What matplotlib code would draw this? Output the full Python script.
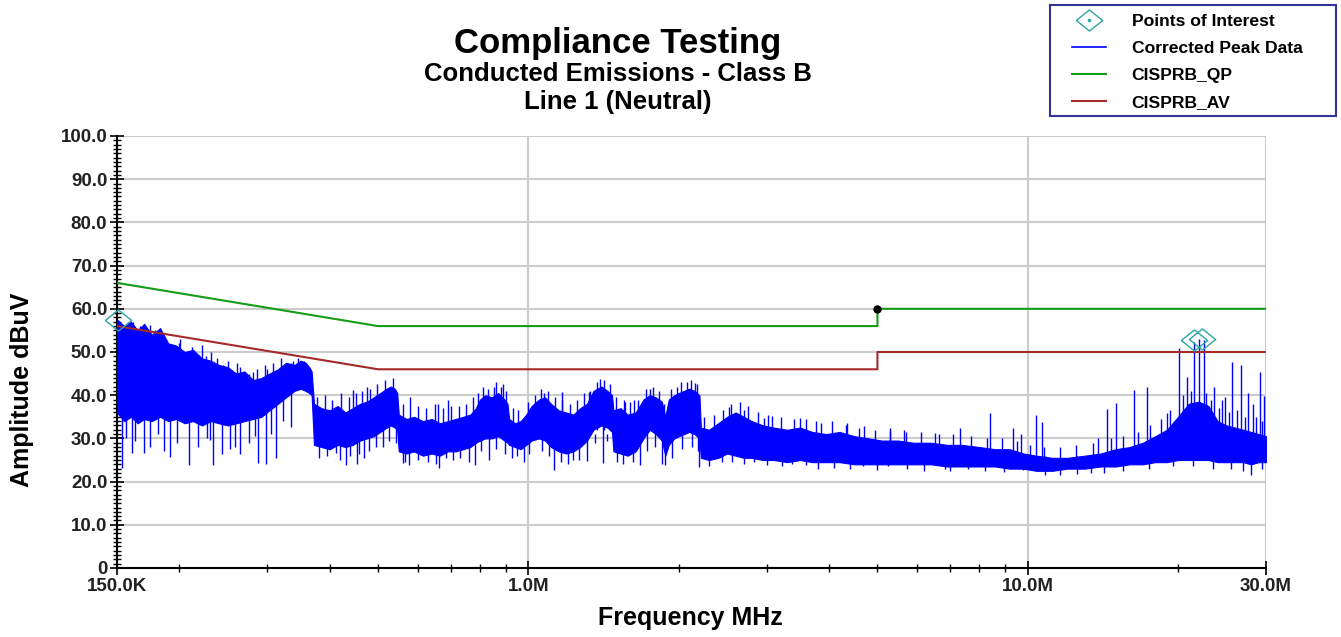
import numpy as np
import matplotlib
matplotlib.use('Agg')
import matplotlib.pyplot as plt
from matplotlib.ticker import FixedLocator, NullFormatter, MultipleLocator
from matplotlib.lines import Line2D
from matplotlib.patches import Rectangle

plt.rcParams['font.family'] = ['Liberation Sans', 'DejaVu Sans']
plt.rcParams['font.weight'] = 'bold'

# limit lines (MHz, dBuV)
qp_freq = [0.15, 0.5, 5.0, 5.0, 30.0]
qp_level = [66.0, 56.0, 56.0, 60.0, 60.0]
av_freq = [0.15, 0.5, 5.0, 5.0, 30.0]
av_level = [56.0, 46.0, 46.0, 50.0, 50.0]

# corrected peak data: envelope of the dense sweep
env_freq = [0.150, 0.155, 0.160, 0.165, 0.170, 0.176, 0.183, 0.190, 0.197, 0.205,
            0.213, 0.222, 0.231, 0.240, 0.250, 0.260, 0.270, 0.281, 0.292, 0.303,
            0.315, 0.327, 0.340, 0.350, 0.358, 0.364, 0.368,
            0.372, 0.385, 0.400, 0.415, 0.430, 0.445, 0.460, 0.475, 0.490, 0.505,
            0.520, 0.530, 0.540, 0.546,
            0.550, 0.570, 0.590, 0.615, 0.640, 0.665, 0.690, 0.715, 0.740, 0.765,
            0.785, 0.800, 0.820, 0.845, 0.870, 0.895, 0.908,
            0.915, 0.940, 0.965, 0.990, 1.015, 1.050, 1.080, 1.110, 1.150, 1.190,
            1.230, 1.270, 1.310, 1.350, 1.400, 1.440, 1.470,
            1.480, 1.530, 1.580, 1.640, 1.700, 1.750, 1.800, 1.850, 1.880, 1.910,
            1.960, 2.000, 2.050, 2.100, 2.150, 2.200,
            2.215, 2.300, 2.400, 2.500, 2.600, 2.700, 2.800, 2.950, 3.100, 3.300,
            3.500, 3.700, 3.950, 4.200, 4.500, 4.800, 5.100, 5.500, 5.900, 6.400,
            6.900, 7.400, 8.000, 8.600, 9.200, 9.800, 10.4, 11.2, 12.0, 13.0,
            14.0, 15.0, 16.0, 17.0, 18.0, 19.0, 20.0, 21.0, 22.0, 23.0,
            24.0, 25.0, 26.0, 27.0, 28.0, 29.0, 30.0]
env_hi = [57.5, 56.0, 57.0, 55.0, 56.5, 54.0, 55.5, 52.0, 51.5, 50.0,
          50.5, 48.5, 48.0, 47.0, 46.5, 45.0, 45.5, 43.5, 44.0, 45.0,
          46.0, 47.5, 47.0, 48.0, 47.5, 46.5, 45.5,
          38.0, 37.0, 36.5, 37.5, 36.0, 37.0, 38.0, 38.5, 39.5, 40.5,
          41.5, 42.0, 41.5, 40.5,
          35.5, 34.5, 35.0, 34.0, 34.5, 33.5, 34.0, 34.5, 35.0, 35.5,
          37.0, 39.0, 40.0, 39.5, 40.5, 39.0, 38.0,
          34.5, 33.5, 34.0, 35.5, 37.5, 39.0, 39.5, 38.0, 36.5, 36.0,
          35.5, 37.0, 38.0, 41.0, 42.0, 41.0, 40.0,
          36.5, 37.0, 35.5, 36.0, 39.0, 40.0, 39.5, 38.5, 35.0, 39.0,
          40.0, 40.5, 41.0, 41.5, 41.0, 40.0,
          32.5, 32.0, 33.5, 35.0, 36.0, 35.0, 34.0, 33.0, 32.5, 32.0,
          32.5, 31.5, 31.0, 31.5, 30.5, 30.0, 29.5, 29.5, 29.0, 29.0,
          28.5, 28.5, 28.0, 27.5, 27.5, 26.5, 26.0, 25.5, 25.5, 26.0,
          26.5, 27.5, 28.0, 29.0, 30.5, 32.0, 35.0, 38.0, 38.5, 37.5,
          34.0, 33.0, 32.5, 32.0, 31.5, 31.0, 30.5]
env_lo = [36.0, 34.0, 35.0, 33.5, 34.5, 34.0, 35.0, 34.0, 34.5, 33.5,
          34.0, 33.0, 34.0, 33.5, 33.0, 33.5, 34.0, 34.5, 35.0, 36.5,
          38.0, 39.5, 41.0, 41.5, 41.0, 40.5, 40.0,
          28.5, 28.0, 27.5, 28.5, 28.0, 28.5, 29.5, 30.0, 30.5, 31.5,
          32.5, 33.0, 32.5, 32.0,
          27.0, 26.5, 27.0, 26.0, 26.5, 26.0, 27.0, 27.0, 27.5, 28.0,
          29.0, 29.5, 30.0, 30.0, 30.5, 29.5, 29.0,
          28.5, 28.0, 27.5, 28.5, 29.5, 30.0, 29.5, 28.0, 27.0, 26.5,
          27.0, 28.0, 29.5, 32.0, 33.0, 32.5, 31.5,
          27.0, 26.5, 26.0, 27.0, 30.0, 32.0, 31.0, 29.5, 26.0, 28.5,
          30.0, 30.5, 31.0, 31.5, 31.0, 30.0,
          25.5, 25.0, 25.5, 26.5, 26.0, 25.5, 25.5, 25.0, 25.0, 24.5,
          25.0, 24.5, 24.5, 24.5, 24.0, 24.0, 24.0, 24.0, 24.0, 24.0,
          23.5, 23.5, 23.5, 23.5, 23.0, 23.0, 22.5, 22.5, 23.0, 23.0,
          23.5, 23.5, 24.0, 24.0, 24.5, 24.5, 25.0, 25.0, 25.0, 25.0,
          24.5, 24.5, 24.5, 24.5, 24.0, 24.5, 24.5]

# larger spikes sticking out of the envelope (MHz, bottom, top)
spike_freq = [0.1535, 0.1606, 0.1696, 0.1867, 0.1911, 0.2088, 0.2307, 0.2340, 0.2436, 0.2649,
              0.2880, 0.2977, 0.3129, 0.3339,
              0.1507, 0.1579, 0.1615, 0.1700, 0.1750, 0.1830, 0.2007, 0.2119, 0.2222, 0.2310,
              0.2379, 0.2503, 0.2614, 0.2813, 0.3000, 0.3269, 0.3345,
              0.411, 0.431, 0.453, 0.468, 0.511, 0.561, 0.577, 0.663, 0.684, 0.761,
              0.783, 0.835, 0.982, 1.123, 1.231, 1.308, 1.409, 1.671, 1.851, 2.200,
              2.444, 2.835, 3.376, 3.59, 4.10, 4.68, 5.26, 6.82, 7.60, 9.79,
              11.6, 14.2, 28.0,
              0.445, 0.475, 0.579, 0.660, 0.690, 0.794, 0.854, 0.891, 1.077, 1.165,
              1.320, 1.389, 1.552, 1.626, 1.751, 1.983, 2.156, 2.523, 2.705, 2.966,
              3.08, 3.50, 3.77, 4.33, 4.70, 5.30, 5.64, 6.51, 7.32, 8.40,
              9.34, 9.71, 10.4, 10.7, 13.85, 14.4, 15.0, 16.3, 17.3, 18.97,
              20.1, 20.8, 21.5, 22.0, 22.5, 23.6, 24.5, 24.8, 25.7, 26.7,
              27.6, 28.3, 29.2, 29.7]
spike_lo = [23.2, 26.6, 26.6, 27.0, 25.7, 23.8, 29.6, 23.8, 26.5, 26.5,
            24.3, 24.0, 25.5, 32.6,
            45.0, 45.0, 45.0, 45.0, 45.0, 45.0, 44.0, 44.0, 44.0, 42.0,
            42.0, 40.0, 40.0, 40.0, 40.0, 42.0, 42.0,
            26.6, 23.8, 24.0, 25.5, 28.0, 24.3, 23.8, 23.1, 25.5, 24.5,
            23.8, 25.0, 24.6, 22.7, 25.0, 24.8, 24.3, 23.8, 24.0, 23.4,
            24.5, 24.5, 24.0, 23.8, 23.1, 23.5, 23.5, 23.0, 23.0, 22.7,
            21.5, 22.0, 21.5,
            33.0, 33.0, 31.0, 31.0, 31.0, 33.0, 35.0, 35.0, 32.0, 32.0,
            33.0, 37.0, 32.0, 32.0, 34.0, 34.0, 34.0, 30.0, 30.0, 29.0,
            29.0, 29.0, 29.0, 28.0, 28.0, 28.0, 28.0, 27.0, 27.0, 26.0,
            26.0, 26.0, 25.0, 25.0, 26.0, 26.0, 26.0, 27.0, 28.0, 30.0,
            32.0, 33.0, 33.0, 33.0, 33.0, 30.0, 30.0, 30.0, 30.0, 30.0,
            30.0, 30.0, 30.0, 30.0]
spike_hi = [45.0, 45.0, 45.0, 45.0, 45.0, 44.0, 42.0, 42.0, 42.0, 40.0,
            40.0, 40.0, 40.0, 44.0,
            57.4, 57.0, 57.0, 56.5, 56.2, 55.5, 53.0, 51.2, 51.6, 50.0,
            48.6, 48.0, 47.4, 45.4, 46.0, 46.8, 47.4,
            33.0, 33.0, 33.0, 33.0, 37.0, 31.0, 31.0, 31.0, 31.0, 31.0,
            33.0, 35.0, 32.0, 32.0, 32.0, 33.0, 37.0, 32.0, 34.0, 30.0,
            30.0, 30.0, 29.0, 29.0, 29.0, 28.0, 28.0, 27.0, 27.0, 26.0,
            25.0, 26.0, 28.0,
            41.2, 42.0, 39.6, 38.0, 39.0, 40.5, 42.0, 42.5, 40.5, 40.7,
            40.7, 43.7, 38.9, 39.0, 41.4, 41.8, 42.8, 37.3, 36.5, 34.7,
            35.3, 34.7, 34.0, 33.1, 32.8, 32.5, 32.0, 31.2, 32.4, 35.9,
            32.4, 31.0, 35.4, 33.8, 30.1, 36.8, 38.2, 41.2, 42.0, 35.9,
            50.9, 44.3, 52.3, 53.0, 52.8, 42.0, 38.9, 39.5, 47.7, 47.0,
            40.5, 38.0, 45.4, 39.8]

# short spikes that make the ragged edges of the band (MHz, bottom, top)
fine_freq = [0.152, 0.157, 0.163, 0.167, 0.172, 0.179, 0.186, 0.193, 0.200, 0.204,
             0.215, 0.219, 0.226, 0.235, 0.244, 0.255, 0.265, 0.276, 0.286, 0.297,
             0.308, 0.320, 0.338, 0.345, 0.355,
             0.156, 0.163, 0.175, 0.181, 0.198, 0.218, 0.227, 0.252, 0.258, 0.276,
             0.283, 0.305, 0.322,
             0.378, 0.392, 0.405, 0.422, 0.438, 0.452, 0.465, 0.482, 0.497, 0.515, 0.535,
             0.380, 0.395, 0.420, 0.440, 0.458, 0.480, 0.495, 0.525, 0.543,
             0.560, 0.600, 0.625, 0.650, 0.675, 0.700, 0.725, 0.750, 0.775, 0.810,
             0.830, 0.862, 0.880, 0.900,
             0.565, 0.602, 0.630, 0.652, 0.705, 0.730, 0.802, 0.860, 0.898,
             0.930, 0.955, 1.000, 1.030, 1.060, 1.095, 1.130, 1.170, 1.210, 1.250,
             1.290, 1.330, 1.370, 1.420, 1.455,
             0.925, 0.950, 1.005, 1.065, 1.100, 1.160, 1.200, 1.260, 1.360, 1.440,
             1.500, 1.560, 1.600, 1.660, 1.720, 1.780, 1.830, 1.870, 1.930, 2.020,
             2.080, 2.120, 2.180,
             1.505, 1.550, 1.620, 1.725, 1.790, 1.875, 1.940, 2.030, 2.125, 2.185,
             2.25, 2.35, 2.45, 2.55, 2.65, 2.75, 2.88, 3.02, 3.20, 3.40,
             3.60, 3.85, 4.05, 4.35, 4.60, 4.95, 5.30, 5.70, 6.10, 6.65,
             7.10, 7.70, 8.30, 8.90, 9.50, 10.1, 10.8, 11.6, 12.5, 13.5,
             14.7, 15.5, 16.6, 17.6, 18.5, 19.3, 20.5, 21.2, 22.8, 23.3,
             24.2, 25.3, 26.2, 27.2, 28.6, 29.5,
             2.30, 2.56, 2.70, 3.00, 3.22, 3.80, 4.40, 5.00, 5.72, 6.20,
             7.00, 8.20, 8.95, 10.85, 12.55, 13.4, 15.55, 17.5, 19.5, 21.4,
             23.5, 25.5, 27.0, 29.4]
fine_lo = [42.0] * 25 + \
          [30.0, 29.5, 28.0, 31.0, 29.0, 28.0, 30.0, 27.5, 28.0, 29.0,
           30.5, 31.0, 34.0] + \
          [34.0] * 11 + \
          [25.5, 26.0, 25.0, 26.0, 26.5, 27.0, 28.0, 29.5, 29.0] + \
          [32.0] * 14 + \
          [24.5, 25.0, 24.5, 24.0, 25.0, 25.5, 27.0, 27.5, 26.5] + \
          [32.0] * 15 + \
          [25.5, 26.0, 26.5, 27.0, 26.0, 24.5, 24.0, 25.0, 29.0, 29.5] + \
          [33.0] * 13 + \
          [24.5, 24.0, 24.5, 27.0, 28.0, 23.8, 25.5, 27.5, 28.0, 27.0] + \
          [27.0] * 14 + [26.0] * 10 + [25.0] * 6 + [27.0] * 16 + \
          [23.5, 24.5, 24.0, 23.8, 23.5, 23.0, 23.0, 22.8, 23.0, 22.5,
           22.5, 22.5, 22.3, 21.5, 21.8, 22.0, 22.5, 23.0, 23.5, 23.5,
           23.0, 23.0, 22.5, 23.0]
fine_hi = [56.0, 55.5, 54.0, 56.0, 52.5, 55.0, 53.0, 50.5, 52.0, 49.5,
           49.5, 47.5, 49.0, 46.5, 47.0, 45.5, 46.5, 45.0, 46.0, 47.0,
           47.5, 48.5, 48.0, 48.5, 48.0] + \
          [40.0] * 12 + [42.0] + \
          [39.5, 40.0, 39.0, 40.5, 39.5, 40.5, 41.0, 41.5, 42.5, 43.5, 44.0] + \
          [33.0] * 9 + \
          [38.0, 37.5, 37.0, 38.0, 37.0, 37.5, 37.5, 38.0, 39.5, 42.0,
           41.5, 43.0, 42.0, 41.0] + \
          [31.0] * 9 + \
          [37.0, 36.5, 38.5, 40.0, 41.5, 41.0, 39.5, 39.0, 38.0, 39.0,
           40.5, 41.0, 43.0, 43.5, 42.5] + \
          [31.0] * 10 + \
          [39.5, 38.5, 38.5, 39.0, 41.5, 42.0, 41.0, 38.0, 41.5, 43.0,
           43.0, 43.5, 42.5] + \
          [33.0] * 10 + \
          [35.0, 35.5, 36.5, 38.0, 38.5, 37.5, 36.0, 35.5, 35.0, 34.5,
           34.5, 33.5, 34.0, 33.5, 32.5, 32.0, 31.8, 31.5, 31.5, 31.0,
           31.0, 30.5, 30.0, 30.0, 29.5, 28.5, 28.0, 28.0, 28.5, 29.0,
           30.0, 30.5, 31.5, 33.0, 34.5, 36.5, 40.0, 41.0, 40.5, 39.0,
           37.0, 36.0, 36.5, 35.0, 35.0, 34.0] + \
          [27.0] * 13 + [26.0] * 3 + [27.0] * 8

# points of interest
poi_freq = [0.1505, 21.5, 22.3]
poi_level = [57.4, 52.8, 53.0]

assert len(env_freq) == len(env_hi) == len(env_lo)
assert len(spike_freq) == len(spike_lo) == len(spike_hi)
assert len(fine_freq) == len(fine_lo) == len(fine_hi)

blue = '#0000ff'
green = '#169c16'
darkred = '#a52a2a'
teal = '#2aa5a5'

fig = plt.figure(figsize=(13.41, 6.37), dpi=100)
ax = fig.add_axes([117 / 1341, 1 - 568 / 637, (1266 - 117) / 1341, (568 - 136) / 637])

ax.fill_between(env_freq, env_lo, env_hi, color=blue, lw=0.8, edgecolor=blue, zorder=3)
ax.vlines(fine_freq, fine_lo, fine_hi, color=blue, lw=1.0, zorder=3)
ax.vlines(spike_freq, spike_lo, spike_hi, color=blue, lw=1.0, zorder=3)

ax.plot(qp_freq, qp_level, color=green, lw=1.5, zorder=4)
ax.plot(av_freq, av_level, color=darkred, lw=1.5, zorder=4)
ax.plot([5.0], [60.0], 'o', color='black', ms=5, zorder=5, clip_on=False)

diamond = [(-1, 0), (0, 0.8), (1, 0), (0, -0.8), (-1, 0)]
ax.plot(poi_freq, poi_level, ls='none', marker=diamond, ms=19, mfc='none',
        mec=teal, mew=1.0, zorder=6, clip_on=False)

ax.set_xscale('log')
ax.set_xlim(0.15, 30)
ax.set_ylim(0, 100)

ax.xaxis.set_major_locator(FixedLocator([0.15, 1, 10, 30]))
ax.set_xticklabels(['150.0K', '1.0M', '10.0M', '30.0M'])
ax.xaxis.set_minor_locator(FixedLocator([0.2, 0.3, 0.4, 0.5, 0.6, 0.7, 0.8, 0.9,
                                         2, 3, 4, 5, 6, 7, 8, 9, 20]))
ax.xaxis.set_minor_formatter(NullFormatter())

ax.yaxis.set_minor_locator(MultipleLocator(1))
ax.set_yticks(np.arange(0, 101, 10))
ax.set_yticklabels(['0'] + ['%.1f' % v for v in range(10, 101, 10)])

ax.tick_params(axis='both', which='major', direction='inout', length=10, width=1.2,
               labelsize=13.5, pad=2)
ax.tick_params(axis='both', which='minor', direction='inout', length=6, width=1.0)
for lab in ax.get_xticklabels() + ax.get_yticklabels():
    lab.set_fontweight('bold')
    lab.set_color('#222222')

ax.grid(True, which='major', color='#cccccc', lw=1.5, zorder=0)
ax.set_axisbelow(True)
for s in ['top', 'right']:
    ax.spines[s].set_visible(False)
ax.spines['left'].set_linewidth(1.5)
ax.spines['bottom'].set_linewidth(1.5)

fig.text(618 / 1341, 1 - 44 / 637, 'Compliance Testing', ha='center', va='center',
         fontsize=25, fontweight='bold')
fig.text(618 / 1341, 1 - 74 / 637, 'Conducted Emissions - Class B', ha='center', va='center',
         fontsize=18.5, fontweight='bold')
fig.text(618 / 1341, 1 - 102 / 637, 'Line 1 (Neutral)', ha='center', va='center',
         fontsize=18.5, fontweight='bold')
fig.text(690 / 1341, 1 - 618 / 637, 'Frequency MHz', ha='center', va='center',
         fontsize=18, fontweight='bold')
fig.text(22 / 1341, 1 - 390 / 637, 'Amplitude dBuV', ha='center', va='center',
         rotation=90, fontsize=18, fontweight='bold')

# legend box
fig.patches.append(Rectangle((1050 / 1341, 1 - 116 / 637), 286 / 1341, 111 / 637,
                             transform=fig.transFigure, fill=False,
                             edgecolor='#333399', lw=1.5))
h_poi = Line2D([], [], ls='none', marker=diamond, ms=19, mfc='none', mec=teal, mew=1.0)
h_dot = Line2D([], [], ls='none', marker='.', ms=3, color=teal)
handles = [(h_poi, h_dot),
           Line2D([], [], color=blue, lw=1.2),
           Line2D([], [], color=green, lw=1.5),
           Line2D([], [], color=darkred, lw=1.5)]
labels = ['Points of Interest', 'Corrected Peak Data', 'CISPRB_QP', 'CISPRB_AV']
leg = fig.legend(handles, labels, loc='upper left', bbox_to_anchor=(1072 / 1341, 1 - 14 / 637),
                 fontsize=12.6, frameon=False, handlelength=1.95, handletextpad=1.45,
                 labelspacing=0.66, borderpad=0, borderaxespad=0)
for t in leg.get_texts():
    t.set_fontweight('bold')

fig.savefig('out.png', dpi=100)
